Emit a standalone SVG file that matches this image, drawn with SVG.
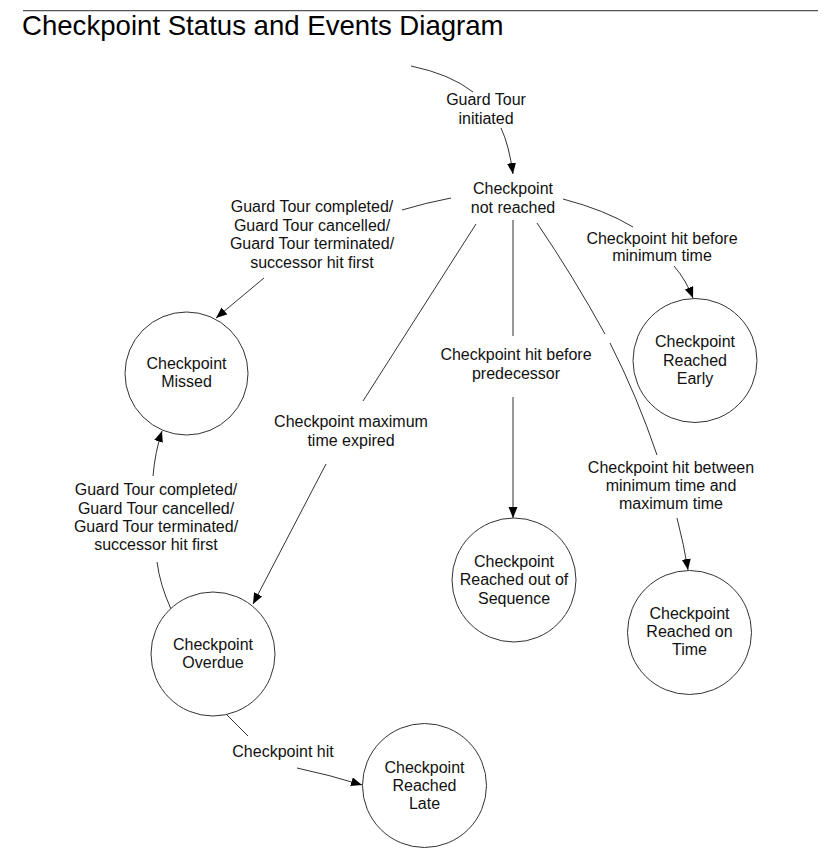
<svg xmlns="http://www.w3.org/2000/svg" width="840" height="868" viewBox="0 0 840 868">
<style>
  text { font-family: "Liberation Sans", Arial, sans-serif; font-size: 16px; fill: #111; text-anchor: middle; }
  .title { font-size: 27.6px; text-anchor: start; fill: #000; }
  .state { fill: #fff; stroke: #333; stroke-width: 1; }
  .edge { fill: none; stroke: #333; stroke-width: 1; }
</style>
<defs>
  <marker id="arr" markerUnits="userSpaceOnUse" markerWidth="12" markerHeight="10" refX="11" refY="4.5" orient="auto">
    <path d="M0,0 L11,4.5 L0,9 z" fill="#000"/>
  </marker>
</defs>
<rect width="840" height="868" fill="#fff"/>
<line x1="23" y1="10.7" x2="818" y2="10.7" stroke="#555" stroke-width="1.3"/>
<text class="title" x="22" y="35">Checkpoint Status and Events Diagram</text>

<g id="connectors">
  <path class="edge" d="M411,66 Q450,74 473,92"/>
  <path class="edge" d="M501,128 Q509,145 513,174" marker-end="url(#arr)"/>
  <path class="edge" d="M451,198 Q425,203 402,210"/>
  <path class="edge" d="M264,278 L216,318" marker-end="url(#arr)"/>
  <path class="edge" d="M476,224 L363,401"/>
  <path class="edge" d="M326,464 L253,604" marker-end="url(#arr)"/>
  <path class="edge" d="M513,220 L513,336"/>
  <path class="edge" d="M513,397 L513,518" marker-end="url(#arr)"/>
  <path class="edge" d="M563,199 Q605,210 633,227"/>
  <path class="edge" d="M674,266 Q686,280 693,298" marker-end="url(#arr)"/>
  <path class="edge" d="M537,223 Q573,276 605,334"/>
  <path class="edge" d="M610,343 Q637,396 657,455"/>
  <path class="edge" d="M677,518 Q684,545 688,570" marker-end="url(#arr)"/>
  <path class="edge" d="M171,609 Q160,585 157,562"/>
  <path class="edge" d="M153,476 Q155,452 162,431" marker-end="url(#arr)"/>
  <path class="edge" d="M226,714 Q238,726 248,736"/>
  <path class="edge" d="M297,768 Q330,775 362,785" marker-end="url(#arr)"/>
</g>

<g id="edge-labels">
  <text x="486" y="105">Guard Tour</text>
  <text x="486" y="123.5">initiated</text>
  <text x="312" y="212">Guard Tour completed/</text>
  <text x="312" y="230.5">Guard Tour cancelled/</text>
  <text x="312" y="249">Guard Tour terminated/</text>
  <text x="312" y="267.5">successor hit first</text>
  <text x="351" y="427">Checkpoint maximum</text>
  <text x="351" y="445.5">time expired</text>
  <text x="516" y="360">Checkpoint hit before</text>
  <text x="516" y="378.5">predecessor</text>
  <text x="662" y="243.5">Checkpoint hit before</text>
  <text x="662" y="261">minimum time</text>
  <text x="671" y="472.5">Checkpoint hit between</text>
  <text x="671" y="491">minimum time and</text>
  <text x="671" y="509">maximum time</text>
  <text x="156" y="495">Guard Tour completed/</text>
  <text x="156" y="513.5">Guard Tour cancelled/</text>
  <text x="156" y="532">Guard Tour terminated/</text>
  <text x="156" y="550">successor hit first</text>
  <text x="283" y="757">Checkpoint hit</text>
</g>

<g id="not-reached">
  <text x="513" y="194">Checkpoint</text>
  <text x="513" y="212.5">not reached</text>
</g>

<g id="missed">
  <circle class="state" cx="186.5" cy="373.5" r="61.5"/>
  <text x="186.5" y="368.5">Checkpoint</text>
  <text x="186.5" y="387">Missed</text>
</g>

<g id="early">
  <circle class="state" cx="695" cy="360.5" r="62"/>
  <text x="695" y="346.5">Checkpoint</text>
  <text x="695" y="365.5">Reached</text>
  <text x="695" y="384">Early</text>
</g>

<g id="out-of-sequence">
  <circle class="state" cx="514" cy="580" r="62"/>
  <text x="514" y="566.5">Checkpoint</text>
  <text x="514" y="585">Reached out of</text>
  <text x="514" y="603.5">Sequence</text>
</g>

<g id="on-time">
  <circle class="state" cx="689.5" cy="632.5" r="62"/>
  <text x="689.5" y="619">Checkpoint</text>
  <text x="689.5" y="637">Reached on</text>
  <text x="689.5" y="655">Time</text>
</g>

<g id="overdue">
  <circle class="state" cx="213" cy="654" r="62"/>
  <text x="213" y="650">Checkpoint</text>
  <text x="213" y="667.5">Overdue</text>
</g>

<g id="late">
  <circle class="state" cx="424.5" cy="785.5" r="62"/>
  <text x="424.5" y="772.5">Checkpoint</text>
  <text x="424.5" y="791">Reached</text>
  <text x="424.5" y="809">Late</text>
</g>
</svg>
